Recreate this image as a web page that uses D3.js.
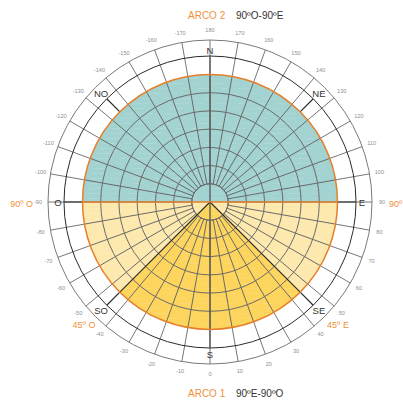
<!DOCTYPE html>
<html><head><meta charset="utf-8">
<script src="https://cdn.jsdelivr.net/npm/d3@7"></script>
<style>body{margin:0;background:#fff}svg{display:block}text{font-family:"Liberation Sans",Arial,sans-serif}</style>
</head><body><svg id="c" width="403" height="401"></svg>
<script>
// ---- data ----
const tickValues = d3.range(-170, 181, 10);          // degree labels around the dial
const radialGridValues = d3.range(-170, 181, 10);    // radial grid every 10º
const ringCount = 7;                                  // concentric rings inside the disk
const cardinalLabels = ["N","NE","E","SE","S","SO","O","NO"];
const cardinalValues = [180, 135, 90, 45, 0, -45, -90, -135];
const arcNames = ["ARCO 2", "ARCO 1"];
const arcRanges = ["90ºO-90ºE", "90ºE-90ºO"];
const sideLabels = ["90º O", "90º E", "45º O", "45º E"];
const sideValues = [-90, 90, -45, 45];

// ---- layout ----
const svg = d3.select("#c");
const cx = 210, cy = 202;
const R = 127.5, Rblack = 146, Rout = 162, Rlab = 172, Rin = R / ringCount;
const g = svg.append("g").attr("transform", `translate(${cx},${cy})`);
// dial value -> d3 angle (0 = up, clockwise). 0 at S, 90 at E, 180 at N, -90 at O
const ang = d3.scaleLinear().domain([-180, 180]).range([2 * Math.PI, 0]);
const rScale = d3.scaleLinear().domain([0, ringCount]).range([0, R]);
const pt = (v, r) => [Math.sin(ang(v)) * r, -Math.cos(ang(v)) * r];

const grey = "#6a6a6a", orange = "#e57f2a", dark = "#2a2a2a";
const fillCol = {arco2: "#a2d3d1", arco1: "#fde8ad", wedge: "#fdd45c"};

const arcGen = d3.arc().innerRadius(0).outerRadius(R);
g.append("path").attr("d", arcGen({startAngle: ang(-90), endAngle: ang(90) + 2 * Math.PI})).attr("fill", fillCol.arco2);
g.append("path").attr("d", arcGen({startAngle: ang(90), endAngle: ang(-90)})).attr("fill", fillCol.arco1);
g.append("path").attr("d", arcGen({startAngle: ang(45), endAngle: ang(-45)})).attr("fill", fillCol.wedge);

// subtle horizontal streak texture
const streaks = d3.range(-R + 4, R, 5);
g.append("g").selectAll("line").data(streaks).join("line")
  .attr("x1", d => -Math.sqrt(Math.max(0, R * R - d * d)) + 6)
  .attr("x2", d => Math.sqrt(Math.max(0, R * R - d * d)) - 6)
  .attr("y1", d => d).attr("y2", d => d)
  .attr("stroke", "#fff").attr("stroke-opacity", 0.12).attr("stroke-width", 1.2)
  .attr("stroke-dasharray", "14 9 6 11");

// concentric grid rings
g.append("g").selectAll("circle").data(d3.range(1, ringCount)).join("circle")
  .attr("r", d => rScale(d)).attr("fill", "none").attr("stroke", grey).attr("stroke-width", 1);

// radial grid lines inside disk
g.append("g").selectAll("line").data(radialGridValues).join("line")
  .attr("x1", d => pt(d, Rin)[0]).attr("y1", d => pt(d, Rin)[1])
  .attr("x2", d => pt(d, R)[0]).attr("y2", d => pt(d, R)[1])
  .attr("stroke", grey).attr("stroke-width", 1);

// outer ring radial ticks
g.append("g").selectAll("line").data(tickValues).join("line")
  .attr("x1", d => pt(d, R)[0]).attr("y1", d => pt(d, R)[1])
  .attr("x2", d => pt(d, Rout)[0]).attr("y2", d => pt(d, Rout)[1])
  .attr("stroke", "#777").attr("stroke-width", 1);

// outer circles
g.append("circle").attr("r", Rout).attr("fill", "none").attr("stroke", "#7a7a7a").attr("stroke-width", 1);
g.append("circle").attr("r", Rblack).attr("fill", "none").attr("stroke", dark).attr("stroke-width", 1);

// N-S main axis
g.append("line").attr("x1", 0).attr("y1", -Rblack).attr("x2", 0).attr("y2", Rblack)
  .attr("stroke", "#555").attr("stroke-width", 1.3);
// E / O segments outside disk
[-90, 90].forEach(v => {
  g.append("line").attr("x1", pt(v, R)[0]).attr("y1", pt(v, R)[1]).attr("x2", pt(v, Rblack)[0]).attr("y2", pt(v, Rblack)[1])
    .attr("stroke", "#444").attr("stroke-width", 1.3);
});
// diagonal segments outside disk
[-135, 135, -45, 45].forEach(v => {
  g.append("line").attr("x1", pt(v, R)[0]).attr("y1", pt(v, R)[1]).attr("x2", pt(v, Rblack)[0]).attr("y2", pt(v, Rblack)[1])
    .attr("stroke", dark).attr("stroke-width", 1.2);
});
// wedge edges
[-45, 45].forEach(v => {
  g.append("line").attr("x1", 0).attr("y1", 0).attr("x2", pt(v, R)[0]).attr("y2", pt(v, R)[1])
    .attr("stroke", dark).attr("stroke-width", 1.1);
});
// inner circle
g.append("circle").attr("r", Rin).attr("fill", "none").attr("stroke", grey).attr("stroke-width", 1);

// orange diameter and circle
g.append("line").attr("x1", pt(-90, R)[0]).attr("y1", 0).attr("x2", pt(90, R)[0]).attr("y2", 0)
  .attr("stroke", orange).attr("stroke-width", 1.6);
g.append("circle").attr("r", R).attr("fill", "none").attr("stroke", orange).attr("stroke-width", 1.5);

// tick labels
g.append("g").selectAll("text").data(tickValues).join("text")
  .attr("x", d => pt(d, Rlab)[0]).attr("y", d => pt(d, Rlab)[1])
  .attr("text-anchor", "middle").attr("dominant-baseline", "central")
  .attr("font-size", 5.6).attr("fill", "#8f8f8f").text(d => d);

// cardinal labels
const cardR = cardinalLabels.map(l => l.length > 1 ? 154 : 152);
g.append("g").selectAll("text").data(cardinalLabels).join("text")
  .attr("x", (d, i) => pt(cardinalValues[i], cardR[i])[0]).attr("y", (d, i) => pt(cardinalValues[i], cardR[i])[1])
  .attr("text-anchor", "middle").attr("dominant-baseline", "central")
  .attr("font-size", 9.5).attr("fill", "#333").text(d => d);

// side labels in orange
const sidePos = [[33, 205, "end"], [389, 205, "start"], [84, 326, "middle"], [338, 326, "middle"]];
svg.append("g").selectAll("text").data(sideLabels).join("text")
  .attr("x", (d, i) => sidePos[i][0]).attr("y", (d, i) => sidePos[i][1])
  .attr("text-anchor", (d, i) => sidePos[i][2]).attr("dominant-baseline", "middle")
  .attr("font-size", 9).attr("fill", "#f0913a").text(d => d);

// arc titles
const titleY = [16, 394];
titleY.forEach((y, i) => {
  svg.append("text").attr("x", 188).attr("y", y).attr("dominant-baseline", "middle")
    .attr("font-size", 10).attr("fill", "#f0913a").text(arcNames[i]);
  svg.append("text").attr("x", 236).attr("y", y).attr("dominant-baseline", "middle")
    .attr("font-size", 10).attr("fill", "#333").text(arcRanges[i]);
});
</script></body></html>
